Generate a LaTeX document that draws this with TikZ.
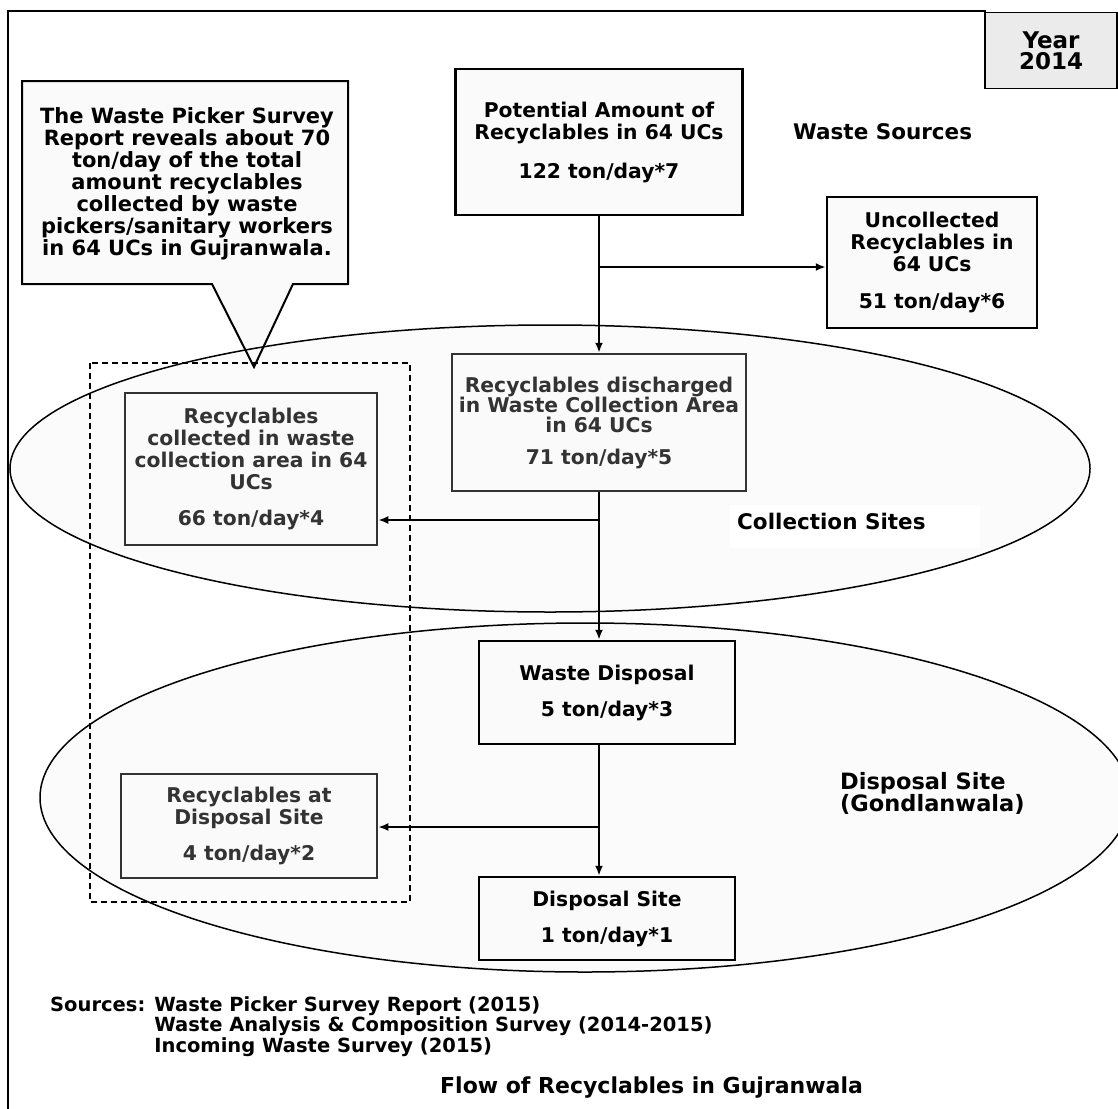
\documentclass[tikz,border=0pt]{standalone}
\usepackage{fontspec}
\setmainfont{DejaVu Sans}
\usetikzlibrary{arrows.meta}
\definecolor{dk}{HTML}{333333}
\definecolor{boxfill}{HTML}{FAFAFA}
\definecolor{yearfill}{HTML}{EBEBEB}
\definecolor{ellfill}{HTML}{FBFBFB}
\begin{document}
\begin{tikzpicture}[x=1pt,y=-1pt,
  box/.style={draw, line width=2.5pt, fill=boxfill, inner sep=0pt, align=center,
    font=\bfseries\fontsize{20.3}{22}\selectfont},
  dbox/.style={box, draw=dk, text=dk},
  lbl/.style={inner sep=0pt, font=\bfseries\fontsize{21.5}{21}\selectfont},
  arr/.style={line width=2pt, -{Latex[length=10pt,width=8pt]}},
  ell/.style={line width=1.5pt}]
\useasboundingbox (0,0) rectangle (1118,1108);
% ellipse fills
\path[fill=ellfill] (550,468.5) ellipse [x radius=540pt, y radius=143.5pt];
\path[fill=ellfill] (585,797.5) ellipse [x radius=545pt, y radius=174.5pt];
\fill[white] (730,505) rectangle (980,548);
% frame
\draw[line width=1.5pt] (8,1110) -- (8,11) -- (986,11);
\node[draw, line width=1.5pt, fill=yearfill, minimum width=132pt, minimum height=76pt,
  inner sep=0pt, align=center, font=\bfseries\fontsize{23}{21}\selectfont] (year) at (1051,50.5) {Year\\2014};
% callout
\draw[line width=2pt, fill=boxfill] (22,81) -- (348,81) -- (348,284) -- (293,284) -- (254,367) -- (212,284) -- (22,284) -- cycle;
\node[align=center, inner sep=0pt, font=\bfseries\fontsize{21}{22}\selectfont] (note) at (187,184)
  {The Waste Picker Survey\\Report reveals about 70\\ton/day of the total\\amount recyclables\\collected by waste\\pickers/sanitary workers\\in 64 UCs in Gujranwala.};
% ellipse outlines
\draw[ell] (550,468.5) ellipse [x radius=540pt, y radius=143.5pt];
\draw[ell] (585,797.5) ellipse [x radius=545pt, y radius=174.5pt];
% dashed group
\draw[line width=1.5pt, dash pattern=on 6pt off 4pt] (90,363) rectangle (410,902);
% boxes
\node[box, minimum width=287pt, minimum height=146pt] (c7) at (599,142)
  {Potential Amount of\\Recyclables in 64 UCs\\[17pt]122 ton/day*7};
\node[box, minimum width=210pt, minimum height=131pt] (c6) at (932,262.5)
  {Uncollected\\Recyclables in\\64 UCs\\[15pt]51 ton/day*6};
\node[dbox, minimum width=294pt, minimum height=137pt, font=\bfseries\fontsize{20.3}{20}\selectfont] (c5) at (599,422.5)
  {Recyclables discharged\\in Waste Collection Area\\in 64 UCs\\[12pt]71 ton/day*5};
\node[dbox, minimum width=252pt, minimum height=152pt] (c4) at (251,469)
  {Recyclables\\collected in waste\\collection area in 64\\UCs\\[14pt]66 ton/day*4};
\node[box, minimum width=256pt, minimum height=103pt] (c3) at (607,692.5)
  {Waste Disposal\\[14pt]5 ton/day*3};
\node[dbox, minimum width=256pt, minimum height=104pt] (c2) at (249,826)
  {Recyclables at\\Disposal Site\\[14pt]4 ton/day*2};
\node[box, minimum width=256pt, minimum height=83pt] (c1) at (607,918.5)
  {Disposal Site\\[14pt]1 ton/day*1};
% labels
\node[lbl, anchor=west] (ws) at (793,132) {Waste Sources};
\node[lbl, anchor=west] (cs) at (737,521) {Collection Sites};
\node[lbl, anchor=west, align=left, font=\bfseries\fontsize{22.5}{21}\selectfont] (ds) at (840,793.5) {Disposal Site\\(Gondlanwala)};
\node[anchor=north west, inner sep=0pt, font=\bfseries\fontsize{19.5}{19.5}\selectfont] (src) at (50,996)
  {\begin{tabular}{@{}l@{ }l@{}}Sources: & Waste Picker Survey Report (2015)\\ & Waste Analysis \& Composition Survey (2014-2015)\\ & Incoming Waste Survey (2015)\end{tabular}};
\node[anchor=west, inner sep=0pt, font=\bfseries\fontsize{22}{22}\selectfont] (flow) at (440,1088) {Flow of Recyclables in Gujranwala};
% connectors
\coordinate (b1) at (599,267);
\coordinate (b2) at (599,520);
\coordinate (b3) at (599,827);
\draw[arr] (c7) -- (c5);
\draw[arr] (b1) -- (b1 -| c6.west);
\draw[arr] (c5.south) -- (c5.south |- c3.north);
\draw[arr] (b2) -- (b2 -| c4.east);
\draw[arr] (c3.south -| c5.south) -- (c5.south |- c1.north);
\draw[arr] (b3) -- (b3 -| c2.east);
\end{tikzpicture}
\end{document}
